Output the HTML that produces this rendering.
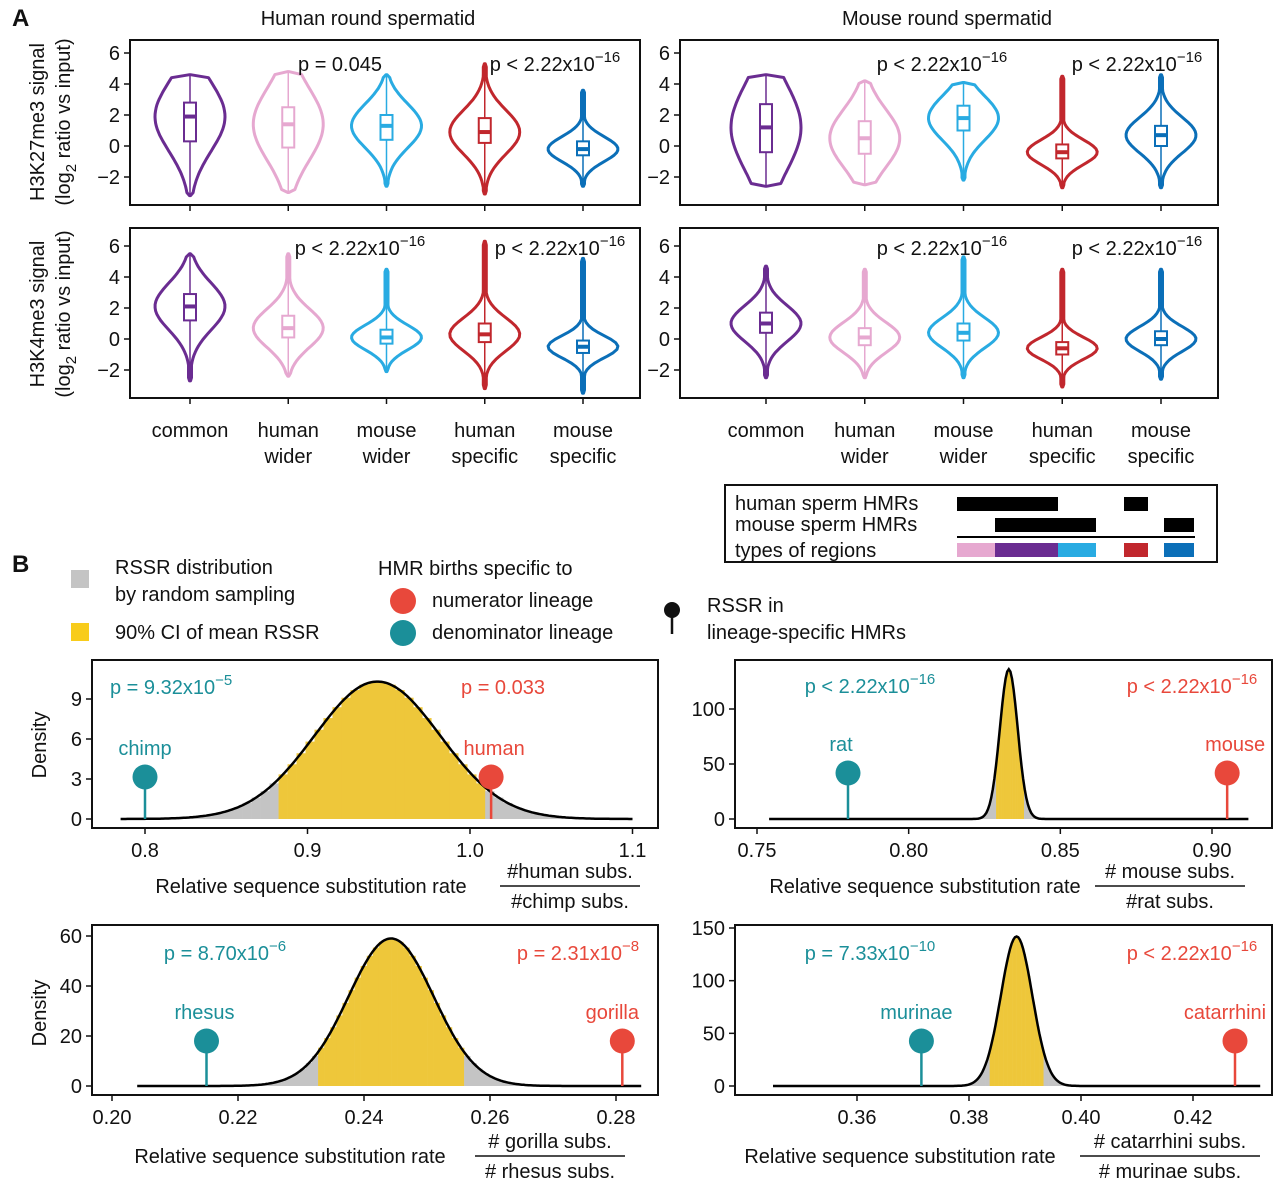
<!DOCTYPE html>
<html><head><meta charset="utf-8"><style>
body{margin:0;background:#fff}
svg{display:block;font-family:"Liberation Sans",Arial,sans-serif}
</style></head><body>
<svg id="fig" width="1280" height="1180" viewBox="0 0 1280 1180" xmlns="http://www.w3.org/2000/svg"></svg>
<script>
// ---------- Panel A data ----------
const categories = ["common","human wider","mouse wider","human specific","mouse specific"];
const catLine1 = ["common","human","mouse","human","mouse"];
const catLine2 = ["","wider","wider","specific","specific"];
const violinColors = ["#6a2c91","#e6a8d0","#29abe2","#c1272d","#0b6fb8"];
const yTicksA = [-2,0,2,4,6];
// each: [min,q1,median,q3,max]
const k27Human = [[-3.2,0.3,1.9,2.8,4.6],[-3.0,-0.1,1.4,2.5,4.8],[-2.6,0.4,1.3,2.0,4.6],[-3.1,0.2,0.9,1.8,5.3],[-2.6,-0.6,-0.2,0.3,3.6]];
const k27Mouse = [[-2.6,-0.4,1.2,2.7,4.6],[-2.5,-0.5,0.5,1.6,4.2],[-2.2,1.0,1.8,2.6,4.1],[-2.7,-0.8,-0.4,0.1,4.5],[-2.7,0.0,0.7,1.3,4.6]];
const k4Human = [[-2.7,1.2,2.1,2.9,5.5],[-2.4,0.1,0.7,1.5,5.5],[-2.1,-0.3,0.1,0.6,4.5],[-3.2,-0.2,0.3,1.0,6.3],[-3.5,-0.9,-0.5,-0.1,5.2]];
const k4Mouse = [[-2.5,0.4,1.0,1.7,4.7],[-2.5,-0.4,0.1,0.7,4.5],[-2.5,-0.1,0.4,1.0,5.3],[-3.1,-1.0,-0.6,-0.2,4.5],[-2.6,-0.4,0.0,0.5,4.5]];

// ---------- Panel B data ----------
const rsHC = {mean:0.943, sd:0.0387, ci:[0.880,1.007], num:1.013, den:0.800};
const rsMR = {mean:0.833, sd:0.00293, ci:[0.829,0.838], num:0.905, den:0.780};
const rsGR = {mean:0.2443, sd:0.00676, ci:[0.2325,0.2555], num:0.281, den:0.215};
const rsCM = {mean:0.3885, sd:0.00281, ci:[0.3835,0.3933], num:0.4275, den:0.3715};
const xTicksHC=[0.8,0.9,1.0,1.1], yTicksHC=[0,3,6,9];
const xTicksMR=[0.75,0.80,0.85,0.90], yTicksMR=[0,50,100];
const xTicksGR=[0.20,0.22,0.24,0.26,0.28], yTicksGR=[0,20,40,60];
const xTicksCM=[0.36,0.38,0.40,0.42], yTicksCM=[0,50,100,150];

const NS="http://www.w3.org/2000/svg";
const svg=document.getElementById('fig');
function el(tag,attrs,parent,text){const e=document.createElementNS(NS,tag);for(const k in attrs)e.setAttribute(k,attrs[k]);if(text!==undefined)e.textContent=text;(parent||svg).appendChild(e);return e;}
function txt(x,y,s,opts,name){const t=el('text',Object.assign({x:x,y:y,'font-size':20,fill:'#111','text-anchor':'middle'},opts||{}),svg,s);

return t;}
function supText(x,y,base,exp,color,anchor,name){const t=el('text',{x:x,y:y,'font-size':20,fill:color,'text-anchor':anchor||'middle'});
el('tspan',{},t,base);el('tspan',{dy:-9,'font-size':15},t,exp);

return t;}

txt(12,26,"A",{'font-weight':'bold','font-size':24,'text-anchor':'start'},'panel-a-label');
txt(12,572,"B",{'font-weight':'bold','font-size':24,'text-anchor':'start'},'panel-b-label');
txt(368,25,"Human round spermatid",{},'human-title');
txt(947,25,"Mouse round spermatid",{},'mouse-title');

function violinPanel(x0,x1,yTop,yBot,y6,c0,step,data,name){
  const g=el('g',{});
  
  
  const ys=v=>y6+(6-v)*15.5;
  el('rect',{x:x0,y:yTop,width:x1-x0,height:yBot-yTop,fill:'none',stroke:'#111','stroke-width':2},g);
  yTicksA.forEach(v=>{el('line',{x1:x0-6,x2:x0,y1:ys(v),y2:ys(v),stroke:'#111','stroke-width':1.5},g);
    el('text',{x:x0-10,y:ys(v)+7,'font-size':20,'text-anchor':'end',fill:'#111'},g,v<0?'\u2212'+(-v):v);});
  data.forEach((d,i)=>{
    const cx=c0+step*i, c=violinColors[i];
    el('line',{x1:cx,x2:cx,y1:yBot,y2:yBot+6,stroke:'#111','stroke-width':1.5},g);
    const [mn,q1,md,q3,mx]=d, s=Math.max(0.55,(q3-q1)/1.35*1.2), W=35;
    let L=[],R=[];
    for(let k=0;k<=40;k++){const v=mn+(mx-mn)*k/40;let w=W*Math.exp(-0.5*((v-md)/s)**2);w=Math.max(w,1.5);if(k==0||k==40)w=0.5;
      L.push([cx-w,ys(v)]);R.push([cx+w,ys(v)]);}
    const pts=L.concat(R.reverse()).map(p=>p[0].toFixed(1)+','+p[1].toFixed(1)).join(' ');
    const vp=el('polygon',{points:pts,fill:'none',stroke:c,'stroke-width':3,'stroke-linejoin':'round'},g);
    
    
    el('line',{x1:cx,x2:cx,y1:ys(mn),y2:ys(mx),stroke:c,'stroke-width':1.5},g);
    el('rect',{x:cx-6,y:ys(q3),width:12,height:ys(q1)-ys(q3),fill:'#fff',stroke:c,'stroke-width':2},g);
    el('line',{x1:cx-6,x2:cx+6,y1:ys(md),y2:ys(md),stroke:c,'stroke-width':4},g);
  });
}
violinPanel(130,640,40,205,53,190,98.25,k27Human,'k27-human-panel');
violinPanel(680,1218,40,205,53,766,98.75,k27Mouse,'k27-mouse-panel');
violinPanel(130,640,228,398,246,190,98.25,k4Human,'k4-human-panel');
violinPanel(680,1218,228,398,246,766,98.75,k4Mouse,'k4-mouse-panel');

function rotLabel(x,y,name){const t=el('text',{transform:`translate(${x},${y}) rotate(-90)`,'font-size':20,'text-anchor':'middle',fill:'#111'});
  return t;}
let r=rotLabel(44,122,'k27-axis-title');r.textContent="H3K27me3 signal";
r=rotLabel(70,122,'k27-axis-sub');el('tspan',{},r,"(log");el('tspan',{dy:6,'font-size':15},r,"2");el('tspan',{dy:-6},r," ratio vs input)");
r=rotLabel(44,314,'k4-axis-title');r.textContent="H3K4me3 signal";
r=rotLabel(70,314,'k4-axis-sub');el('tspan',{},r,"(log");el('tspan',{dy:6,'font-size':15},r,"2");el('tspan',{dy:-6},r," ratio vs input)");

txt(340,71,"p = 0.045",{},'p-k27-human-1');
supText(555,71,"p < 2.22x10","\u221216","#111",'middle','p-k27-human-2');
supText(360,255,"p < 2.22x10","\u221216","#111",'middle','p-k4-human-1');
supText(560,255,"p < 2.22x10","\u221216","#111",'middle','p-k4-human-2');
supText(942,71,"p < 2.22x10","\u221216","#111",'middle','p-k27-mouse-1');
supText(1137,71,"p < 2.22x10","\u221216","#111",'middle','p-k27-mouse-2');
supText(942,255,"p < 2.22x10","\u221216","#111",'middle','p-k4-mouse-1');
supText(1137,255,"p < 2.22x10","\u221216","#111",'middle','p-k4-mouse-2');

[[190,98.25],[766,98.75]].forEach(([c0,st])=>{catLine1.forEach((c,i)=>{const cx=c0+st*i;
  txt(cx,437,c,{},'category-label');if(catLine2[i])txt(cx,463,catLine2[i],{},'category-label');});});

const dg=el('g',{});
el('rect',{x:725,y:485,width:492,height:77,fill:'none',stroke:'#111','stroke-width':2},dg);
txt(735,510,"human sperm HMRs",{'text-anchor':'start'},'diagram-human-label');
txt(735,531,"mouse sperm HMRs",{'text-anchor':'start'},'diagram-mouse-label');
txt(735,557,"types of regions",{'text-anchor':'start'},'diagram-types-label');
[[957,1058,497],[1124,1148,497],[995,1096,518],[1164,1194,518]].forEach(b=>el('rect',{x:b[0],y:b[2],width:b[1]-b[0],height:14,fill:'#000'},dg));
el('line',{x1:957,x2:1195,y1:537,y2:537,stroke:'#000','stroke-width':2},dg);
[[957,995,1],[995,1058,0],[1058,1096,2],[1124,1148,3],[1164,1194,4]].forEach(b=>el('rect',{x:b[0],y:543,width:b[1]-b[0],height:14,fill:violinColors[b[2]]},dg));

const TEAL="#1b8f99", RED="#e8483b", YEL="#eec73a", GRY="#c4c4c4";
el('rect',{x:71,y:570,width:18,height:18,fill:GRY});
txt(115,574,"RSSR distribution",{'text-anchor':'start'},'legend-rssr');
txt(115,601,"by random sampling",{'text-anchor':'start'},'legend-rssr-2');
el('rect',{x:71,y:623,width:18,height:18,fill:'#f8cc1b'});
txt(115,639,"90% CI of mean RSSR",{'text-anchor':'start'},'legend-ci');
txt(378,575,"HMR births specific to",{'text-anchor':'start'},'legend-births-title');
el('circle',{cx:403,cy:601,r:13,fill:RED});
txt(432,607,"numerator lineage",{'text-anchor':'start'},'legend-numerator');
el('circle',{cx:403,cy:633,r:13,fill:TEAL});
txt(432,639,"denominator lineage",{'text-anchor':'start'},'legend-denominator');
el('circle',{cx:672,cy:610,r:8,fill:'#111'});el('line',{x1:672,x2:672,y1:610,y2:634,stroke:'#111','stroke-width':2.5});
txt(707,612,"RSSR in",{'text-anchor':'start'},'legend-lollipop');
txt(707,639,"lineage-specific HMRs",{'text-anchor':'start'},'legend-lollipop-2');

function densPanel(o){
  const g=el('g',{});
  const xs=v=>o.xa[0]+(v-o.xv[0])*(o.xa[1]-o.xa[0])/(o.xv[1]-o.xv[0]);
  const ys=v=>o.ya[0]+(v-o.yv[0])*(o.ya[1]-o.ya[0])/(o.yv[1]-o.yv[0]);
  const d=o.d, pdf=v=>Math.exp(-0.5*((v-d.mean)/d.sd)**2)/(d.sd*2.5066);
  const bw=d.sd/7;
  for(let v=d.mean-4*d.sd;v<d.mean+4*d.sd;v+=bw){const h=pdf(v+bw/2);const inCI=v+bw/2>=d.ci[0]&&v+bw/2<=d.ci[1];
    el('rect',{x:xs(v),y:ys(h),width:xs(v+bw)-xs(v)+0.3,height:ys(0)-ys(h),fill:inCI?YEL:GRY},g);}
  let p=[];for(let k=0;k<=300;k++){const v=o.range[0]+(o.range[1]-o.range[0])*k/300;p.push(xs(v).toFixed(1)+','+ys(pdf(v)).toFixed(1));}
  const c=el('polyline',{points:p.join(' '),fill:'none',stroke:'#000','stroke-width':2.5},g);
  
  el('rect',{x:o.box[0],y:o.box[1],width:o.box[2]-o.box[0],height:o.box[3]-o.box[1],fill:'none',stroke:'#111','stroke-width':2},g);
  o.xt.forEach(v=>{el('line',{x1:xs(v),x2:xs(v),y1:o.box[3],y2:o.box[3]+6,stroke:'#111','stroke-width':1.5},g);
    el('text',{x:xs(v),y:o.box[3]+29,'font-size':20,'text-anchor':'middle',fill:'#111'},g,o.fmt(v));});
  o.yt.forEach(v=>{el('line',{x1:o.box[0]-6,x2:o.box[0],y1:ys(v),y2:ys(v),stroke:'#111','stroke-width':1.5},g);
    el('text',{x:o.box[0]-10,y:ys(v)+7,'font-size':20,'text-anchor':'end',fill:'#111'},g,v);});
  [[d.den,TEAL,o.denName],[d.num,RED,o.numName]].forEach(([v,col,nm])=>{
    el('line',{x1:xs(v),x2:xs(v),y1:ys(0),y2:o.lolY,stroke:col,'stroke-width':2.5},g);
    const cc=el('circle',{cx:xs(v),cy:o.lolY,r:12.5,fill:col},g);
    
    txt(xs(v)+(o.lblOff[nm]||0),o.lolY-22,nm,{fill:col},'species-label-'+nm);});
}
densPanel({name:'human-chimp-panel',d:rsHC,xv:[0.8,1.0],xa:[145,470],yv:[0,9],ya:[819,699],range:[0.785,1.1],box:[92,660,658,828],
  xt:xTicksHC,yt:yTicksHC,fmt:v=>v.toFixed(1),lolY:777,denName:'chimp',numName:'human',lblOff:{human:3}});
densPanel({name:'mouse-rat-panel',d:rsMR,xv:[0.75,0.90],xa:[757,1212],yv:[0,100],ya:[819,709],range:[0.754,0.912],box:[735,660,1272,828],
  xt:xTicksMR,yt:yTicksMR,fmt:v=>v.toFixed(2),lolY:773,denName:'rat',numName:'mouse',lblOff:{rat:-7,mouse:8}});
densPanel({name:'gorilla-rhesus-panel',d:rsGR,xv:[0.20,0.28],xa:[112,616],yv:[0,60],ya:[1086,936],range:[0.204,0.284],box:[92,925,658,1095],
  xt:xTicksGR,yt:yTicksGR,fmt:v=>v.toFixed(2),lolY:1041,denName:'rhesus',numName:'gorilla',lblOff:{rhesus:-2,gorilla:-10}});
densPanel({name:'catarrhini-murinae-panel',d:rsCM,xv:[0.36,0.42],xa:[857,1193],yv:[0,150],ya:[1086,928],range:[0.345,0.432],box:[735,925,1272,1095],
  xt:xTicksCM,yt:yTicksCM,fmt:v=>v.toFixed(2),lolY:1041,denName:'murinae',numName:'catarrhini',lblOff:{murinae:-5,catarrhini:-10}});

supText(110,694,"p = 9.32x10","\u22125",TEAL,'start','p-chimp');
txt(503,694,"p = 0.033",{fill:RED},'p-human');
supText(870,693,"p < 2.22x10","\u221216",TEAL,'middle','p-rat');
supText(1192,693,"p < 2.22x10","\u221216",RED,'middle','p-mouse');
supText(225,960,"p = 8.70x10","\u22126",TEAL,'middle','p-rhesus');
supText(578,960,"p = 2.31x10","\u22128",RED,'middle','p-gorilla');
supText(870,960,"p = 7.33x10","\u221210",TEAL,'middle','p-murinae');
supText(1192,960,"p < 2.22x10","\u221216",RED,'middle','p-catarrhini');

r=rotLabel(46,745,'density-axis-title-1');r.textContent="Density";
r=rotLabel(46,1013,'density-axis-title-2');r.textContent="Density";

function xTitle(tx,fx,y,num,den,w,name){txt(tx,y+7,"Relative sequence substitution rate",{},name);
  txt(fx,y-8,num,{},name+'-num');txt(fx,y+22,den,{},name+'-den');
  el('line',{x1:fx-w/2,x2:fx+w/2,y1:y,y2:y,stroke:'#111','stroke-width':1.5});}
xTitle(311,570,886,"#human subs.","#chimp subs.",140,'x-title-hc');
xTitle(925,1170,886,"# mouse subs.","#rat subs.",150,'x-title-mr');
xTitle(290,550,1156,"# gorilla subs.","# rhesus subs.",150,'x-title-gr');
xTitle(900,1170,1156,"# catarrhini subs.","# murinae subs.",180,'x-title-cm');
</script>
</body></html>
